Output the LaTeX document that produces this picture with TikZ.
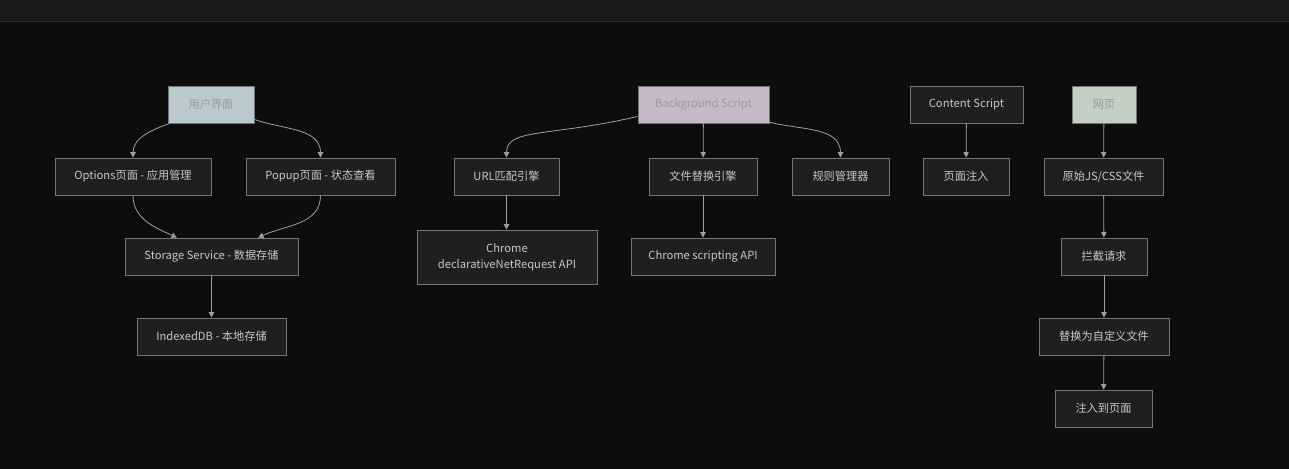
\documentclass[tikz,border=0pt]{standalone}
\usepackage{fontspec}
\setmainfont{Noto Sans CJK SC}
\usetikzlibrary{arrows.meta}

\definecolor{bgdark}{HTML}{0D0D0D}
\definecolor{topbar}{HTML}{191919}
\definecolor{topline}{HTML}{2B2B2B}
\definecolor{boxfill}{HTML}{1F1F1F}
\definecolor{boxline}{HTML}{757575}
\definecolor{boxtext}{HTML}{C8C8C8}
\definecolor{edgegray}{HTML}{A0A0A0}
\definecolor{uiblue}{HTML}{B8C9CF}
\definecolor{bgpurple}{HTML}{C4B8C9}
\definecolor{webgreen}{HTML}{C3CFC3}
\definecolor{lighttext}{HTML}{9C9C9C}

\tikzset{
  box/.style={draw=boxline, fill=boxfill, text=boxtext, line width=0.65pt,
    minimum height=27.75pt, inner sep=0pt, align=center,
    font=\fontsize{8.4pt}{12pt}\selectfont},
  boxw/.style={minimum width=#1*0.75pt},
  lightbox/.style={box, fill=#1, text=lighttext},
  edge/.style={draw=edgegray, line width=0.6pt, -{Triangle[length=4pt,width=4pt]}}
}

\begin{document}
\begin{tikzpicture}[x=0.75pt, y=0.75pt]
\useasboundingbox (0,0) rectangle (1289,-468);

% Background and top bar
\fill[bgdark] (-6,6) rectangle (1295,-474);
\fill[topbar] (-6,6) rectangle (1295,-21);
\draw[topline, line width=0.8pt] (-6,-21.5) -- (1295,-21.5);

% User interface
\node[lightbox=uiblue, boxw=86] (ui) at (211,-104.5) {用户界面};
\node[box, boxw=156] (opt) at (133,-176.5) {Options页面 - 应用管理};
\node[box, boxw=149] (popup) at (320.5,-176.5) {Popup页面 - 状态查看};
\node[box, boxw=173] (store) at (211.5,-256.5) {Storage Service - 数据存储};
\node[box, boxw=149] (idb) at (211.5,-336.5) {IndexedDB - 本地存储};

% Background script
\node[lightbox=bgpurple, boxw=131] (bg) at (703.5,-104.5) {Background Script};
\node[box, boxw=105] (url) at (506.5,-176.5) {URL匹配引擎};
\node[box, boxw=108] (file) at (703,-176.5) {文件替换引擎};
\node[box, boxw=97] (rules) at (840.5,-176.5) {规则管理器};
\node[box, boxw=180, minimum height=40.5pt] (dnr) at (507,-257) {Chrome\\declarativeNetRequest API};
\node[box, boxw=144] (scr) at (703,-256.5) {Chrome scripting API};

% Content script
\node[box, boxw=113] (cs) at (966.5,-104.5) {Content Script};
\node[box, boxw=86] (inject) at (966,-176.5) {页面注入};

% Web page
\node[lightbox=webgreen, boxw=64] (web) at (1104,-104.5) {网页};
\node[box, boxw=119] (orig) at (1103.5,-176.5) {原始JS/CSS文件};
\node[box, boxw=86] (block) at (1104,-256.5) {拦截请求};
\node[box, boxw=130] (repl) at (1104,-336.5) {替换为自定义文件};
\node[box, boxw=97] (topage) at (1103.5,-408.5) {注入到页面};

% Edges
\draw[edge] ([xshift=1.5pt]ui.south west) to[out=200,in=90] (opt.north);
\draw[edge] ([yshift=3pt]ui.south east) to[out=-20,in=90] (popup.north);
\draw[edge] (opt.south) to[out=-90,in=155] ([xshift=-26pt]store.north);
\draw[edge] (popup.south) to[out=-90,in=25] ([xshift=35pt]store.north);
\draw[edge] (store) -- (idb);

\draw[edge] ([yshift=-9pt]bg.west) to[out=193,in=90,out looseness=1.7,in looseness=0.55] (url.north);
\draw[edge] (bg) -- (file);
\draw[edge] ([yshift=1pt]bg.south east) to[out=-15,in=90] (rules.north);
\draw[edge] (url) -- (url |- dnr.north);
\draw[edge] (file) -- (scr);

\draw[edge] (cs) -- (inject);
\draw[edge] (web) -- (orig);
\draw[edge] (orig) -- (block);
\draw[edge] (block) -- (repl);
\draw[edge] (repl) -- (topage);

\end{tikzpicture}
\end{document}
